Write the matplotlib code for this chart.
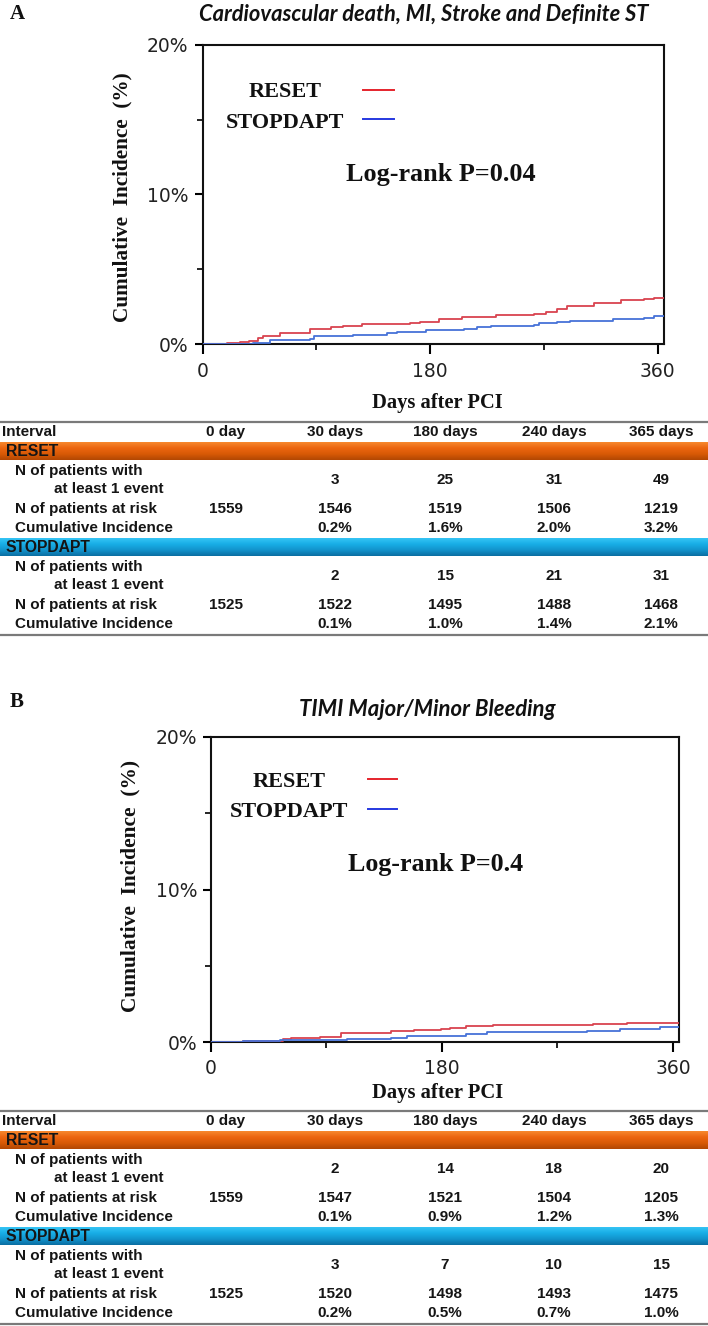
import numpy as np
import matplotlib
matplotlib.use("Agg")
import matplotlib.pyplot as plt
from matplotlib.colors import LinearSegmentedColormap
from matplotlib.ticker import FixedLocator

# ---------------- data ----------------
a_reset_days = [0, 19, 30, 37, 44, 48, 61, 85, 102, 111, 126, 164, 172, 187, 205, 232, 262, 272, 280, 288, 310, 331, 349, 357, 365]
a_reset_vals = [0, 0.07, 0.15, 0.2, 0.4, 0.56, 0.78, 1.02, 1.13, 1.22, 1.33, 1.4, 1.51, 1.67, 1.82, 1.93, 2.05, 2.18, 2.35, 2.56, 2.78, 2.96, 3.04, 3.11, 3.11]
a_stop_days = [0, 37, 40, 53, 85, 88, 119, 146, 154, 177, 207, 217, 228, 262, 266, 280, 291, 325, 349, 357, 365]
a_stop_vals = [0, 0.05, 0.11, 0.29, 0.38, 0.56, 0.6, 0.73, 0.82, 0.93, 1.02, 1.16, 1.22, 1.31, 1.45, 1.5, 1.56, 1.69, 1.78, 1.89, 1.89]

b_reset_days = [0, 25, 56, 62, 85, 101, 140, 158, 179, 186, 199, 220, 298, 324, 365]
b_reset_vals = [0, 0.07, 0.2, 0.28, 0.35, 0.57, 0.72, 0.79, 0.83, 0.92, 1.05, 1.12, 1.18, 1.27, 1.27]
b_stop_days = [0, 25, 54, 106, 140, 153, 199, 215, 293, 319, 350, 365]
b_stop_vals = [0, 0.09, 0.1, 0.17, 0.26, 0.39, 0.5, 0.66, 0.72, 0.83, 0.96, 0.96]

groups = ["RESET", "STOPDAPT"]
x_major = [0, 180, 360]
x_minor = [90, 270]
y_major = [0, 10, 20]
y_major_labels = ["0%", "10%", "20%"]
y_minor = [5, 15]

titles = ["Cardiovascular death, MI, Stroke and Definite ST", "TIMI Major/Minor Bleeding"]
pvals = ["Log-rank P=0.04", "Log-rank P=0.4"]
panel_letters = ["A", "B"]

col_headers = ["Interval", "0 day", "30 days", "180 days", "240 days", "365 days"]
row_labels = ["N of patients at risk", "Cumulative Incidence"]

a_reset_events = ["", "3", "25", "31", "49"]
a_reset_risk = ["1559", "1546", "1519", "1506", "1219"]
a_reset_ci = ["", "0.2%", "1.6%", "2.0%", "3.2%"]
a_stop_events = ["", "2", "15", "21", "31"]
a_stop_risk = ["1525", "1522", "1495", "1488", "1468"]
a_stop_ci = ["", "0.1%", "1.0%", "1.4%", "2.1%"]

b_reset_events = ["", "2", "14", "18", "20"]
b_reset_risk = ["1559", "1547", "1521", "1504", "1205"]
b_reset_ci = ["", "0.1%", "0.9%", "1.2%", "1.3%"]
b_stop_events = ["", "3", "7", "10", "15"]
b_stop_risk = ["1525", "1520", "1498", "1493", "1475"]
b_stop_ci = ["", "0.2%", "0.5%", "0.7%", "1.0%"]

# ---------------- figure ----------------
W, H = 708, 1326
fig = plt.figure(figsize=(W / 100, H / 100), dpi=100)
fig.patch.set_facecolor("white")

RED = "#D9434F"
BLUE = "#4672D8"
LEG_RED = "#E5242C"
LEG_BLUE = "#2638E0"

def px_axes(left, top, right, bottom):
    return fig.add_axes([left / W, 1 - bottom / H, (right - left) / W, (bottom - top) / H])

# overlay axes in pixel coordinates for text & table
ov = fig.add_axes([0, 0, 1, 1], zorder=5)
ov.set_xlim(0, W)
ov.set_ylim(H, 0)
ov.axis("off")
ov.patch.set_visible(False)

renderer = fig.canvas.get_renderer()

def fit_width(t, target):
    bb = t.get_window_extent(renderer)
    if bb.width > 0:
        t.set_fontsize(t.get_fontsize() * target / bb.width)

def fit_height(t, target):
    bb = t.get_window_extent(renderer)
    if bb.height > 0:
        t.set_fontsize(t.get_fontsize() * target / bb.height)

def km_panel(box, rd, rv, sd, sv):
    ax = px_axes(*box)
    ax.step(rd, rv, where="post", color=RED, lw=1.3, zorder=3)
    ax.step(sd, sv, where="post", color=BLUE, lw=1.3, zorder=3)
    ax.set_xlim(0, 365)
    ax.set_ylim(0, 20)
    ax.xaxis.set_major_locator(FixedLocator(x_major))
    ax.xaxis.set_minor_locator(FixedLocator(x_minor))
    ax.set_xticklabels([str(v) for v in x_major])
    ax.yaxis.set_major_locator(FixedLocator(y_major))
    ax.yaxis.set_minor_locator(FixedLocator(y_minor))
    ax.set_yticklabels(y_major_labels)
    for s in ax.spines.values():
        s.set_linewidth(1.5)
        s.set_color("#111111")
    ax.tick_params(axis="x", which="major", direction="out", length=7.5, width=1.5, pad=5,
                   labelsize=13.5, labelcolor="#222222")
    ax.tick_params(axis="x", which="minor", direction="out", length=4, width=1.2)
    ax.tick_params(axis="y", which="major", direction="out", length=6, width=1.5, pad=4,
                   labelsize=13.5, labelcolor="#222222")
    ax.tick_params(axis="y", which="minor", direction="out", length=4, width=1.2)
    for lab in ax.get_xticklabels() + ax.get_yticklabels():
        lab.set_family("DejaVu Sans")
    return ax

axA = km_panel((202.5, 44.7, 664, 344.3), a_reset_days, a_reset_vals, a_stop_days, a_stop_vals)
axB = km_panel((211, 737, 679.3, 1042), b_reset_days, b_reset_vals, b_stop_days, b_stop_vals)

SERIF = ["Liberation Serif", "DejaVu Serif"]

def panel_texts(letter, letter_y, title, title_cx, title_y, title_w,
                ylab_x, ylab_cy, ylab_h, leg_cx, leg_y, leg_line_x, leg_line_y,
                pval, p_cx, p_y, p_w, xl_cx, xl_y, xl_w):
    ov.text(10, letter_y, letter, family=SERIF, weight="bold", fontsize=15,
            ha="left", va="center", color="#111111")
    t = ov.text(title_cx, title_y, title, family=["Lato", "DejaVu Sans"], style="italic",
                weight="bold", fontsize=14, ha="center", va="center", color="#111111")
    fit_width(t, title_w)
    t = ov.text(ylab_x, ylab_cy, "Cumulative  Incidence  (%)", family=SERIF, weight="bold",
                fontsize=15, rotation=90, ha="center", va="center", color="#111111")
    fit_height(t, ylab_h)
    for g, ly, lly, col in zip(groups, leg_y, leg_line_y, [LEG_RED, LEG_BLUE]):
        ov.text(leg_cx, ly, g, family=SERIF, weight="bold", fontsize=16,
                ha="center", va="center", color="#111111")
        ov.plot(leg_line_x, [lly, lly], color=col, lw=1.4)
    t = ov.text(p_cx, p_y, pval, family=SERIF, weight="bold", fontsize=18,
                ha="center", va="center", color="#111111")
    fit_width(t, p_w)
    t = ov.text(xl_cx, xl_y, "Days after PCI", family=SERIF, weight="bold", fontsize=13,
                ha="center", va="center", color="#111111")
    fit_width(t, xl_w)

panel_texts("A", 14, titles[0], 424, 14, 450,
            122, 197, 251, 285, [92, 123], [363, 394], [90, 119],
            pvals[0], 441, 175, 189, 437, 403, 130)
panel_texts("B", 702, titles[1], 427, 710, 257,
            130, 886, 252, 289, [782, 812], [368, 397], [779, 809],
            pvals[1], 436, 864, 175, 438, 1093, 131)

# ---------------- tables ----------------
col_x = [226, 335, 445, 554, 661]
TFONT = ["Liberation Sans", "DejaVu Sans"]
TSIZE = 11
TW = "bold"
TC = "#151515"

orange_cmap = LinearSegmentedColormap.from_list("o", ["#F7892F", "#EC6510", "#D85A06", "#B24703"])
blue_cmap = LinearSegmentedColormap.from_list("b", ["#35C4F4", "#18AEE6", "#1293CC", "#0B6EA2"])
grad = np.linspace(0, 1, 64).reshape(-1, 1)

def tt(x, y, s, ha="left", size=TSIZE):
    ov.text(x, y, s, family=TFONT, fontsize=size, weight=TW, ha=ha, va="center", color=TC)

def draw_table(top, reset_rows, stop_rows):
    ov.plot([0, W], [top, top], color="#7A7A7A", lw=1.6, solid_capstyle="butt")
    tt(2, top + 10.5, col_headers[0])
    for cx, hd in zip(col_x, col_headers[1:]):
        tt(cx, top + 10.5, hd, ha="center")
    for gi, (g, rows, cmap) in enumerate(zip(groups, [reset_rows, stop_rows],
                                            [orange_cmap, blue_cmap])):
        b0 = top + 20 + gi * 96
        ov.imshow(grad, cmap=cmap, aspect="auto", origin="upper",
                  extent=[0, W, b0 + 18, b0], interpolation="bilinear")
        tt(6, b0 + 9.5, g, size=11.3)
        events, risk, ci = rows
        tt(15, b0 + 29.5, "N of patients with")
        tt(54, b0 + 47.5, "at least 1 event")
        tt(15, b0 + 67.5, row_labels[0])
        tt(15, b0 + 86.7, row_labels[1])
        for cx, e, r, c in zip(col_x, events, risk, ci):
            tt(cx, b0 + 38.5, e, ha="center")
            tt(cx, b0 + 67.5, r, ha="center")
            tt(cx, b0 + 86.7, c, ha="center")
    ov.plot([0, W], [top + 213.6, top + 213.6], color="#7A7A7A", lw=1.6, solid_capstyle="butt")

draw_table(421.7, (a_reset_events, a_reset_risk, a_reset_ci), (a_stop_events, a_stop_risk, a_stop_ci))
draw_table(1110.7, (b_reset_events, b_reset_risk, b_reset_ci), (b_stop_events, b_stop_risk, b_stop_ci))

ov.set_xlim(0, W)
ov.set_ylim(H, 0)

fig.savefig("out.png", dpi=100, facecolor="white")
